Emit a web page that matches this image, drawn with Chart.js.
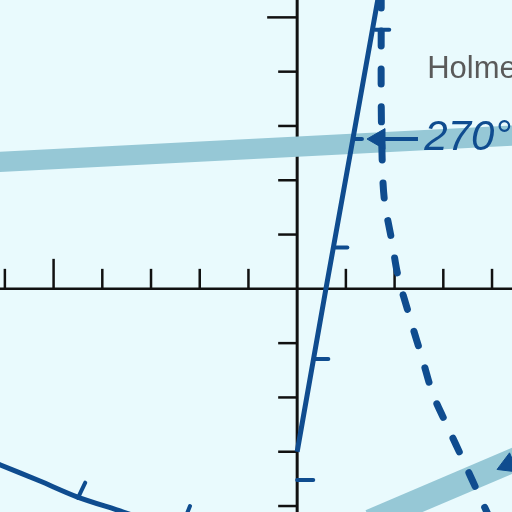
<!DOCTYPE html>
<html>
<head>
<meta charset="utf-8">
<script src="https://cdn.jsdelivr.net/npm/chart.js@4"></script>
<style>
  html, body { margin: 0; padding: 0; background: #e9fafd; }
  #wrap { width: 512px; height: 512px; }
</style>
</head>
<body>
<div id="wrap"><canvas id="phaseChart"></canvas></div>
<script>
// axis ranges and ticks
const xRange = [-6.1, 4.41];
const yRange = [-4.11, 5.32];
const xTicks = [-6, -5, -4, -3, -2, -1, 1, 2, 3, 4];
const yTicks = [-4, -3, -2, -1, 1, 2, 3, 4, 5];
const majorX = [-5];
const majorY = [5];

// light bands
const upperBand = [{ x: -6.5, y: 2.32 }, { x: 4.8, y: 2.84 }];
const lowerBand = [{ x: 1.5, y: -4.28 }, { x: 4.8, y: -3.02 }];

// solid line through the origin region
const solidLine = [
  { x: 0, y: -3.0 }, { x: 0.59, y: 0 }, { x: 1.14, y: 2.74 }, { x: 1.69, y: 5.5 }
];

// dashed curve
const dashedLine = [
  { x: 1.725, y: 5.45 }, { x: 1.725, y: 4.77 }, { x: 1.725, y: 3.48 },
  { x: 1.745, y: 2.38 }, { x: 1.79, y: 1.64 }, { x: 1.95, y: 0.85 },
  { x: 2.07, y: 0.24 }, { x: 2.34, y: -0.61 }, { x: 2.57, y: -1.29 },
  { x: 2.79, y: -1.95 }, { x: 3.10, y: -2.56 }, { x: 3.43, y: -3.20 },
  { x: 3.76, y: -3.85 }, { x: 3.92, y: -4.16 }, { x: 4.0, y: -4.3 }
];

// lower left curve
const lowerCurve = [
  { x: -6.3, y: -3.17 }, { x: -6.1, y: -3.24 }, { x: -5.28, y: -3.54 },
  { x: -4.52, y: -3.83 }, { x: -3.57, y: -4.11 }, { x: -2.81, y: -4.35 }
];

// small tick marks along the curves
const stubs = [
  [{ x: 0.0, y: -3.52 }, { x: 0.33, y: -3.52 }],
  [{ x: 0.35, y: -1.29 }, { x: 0.64, y: -1.29 }],
  [{ x: 0.79, y: 0.76 }, { x: 1.03, y: 0.76 }],
  [{ x: 1.15, y: 2.76 }, { x: 1.33, y: 2.76 }],
  [{ x: 1.6, y: 4.77 }, { x: 1.89, y: 4.77 }],
  [{ x: -4.50, y: -3.85 }, { x: -4.35, y: -3.57 }],
  [{ x: -2.28, y: -4.18 }, { x: -2.20, y: -4.0 }]
];

// arrow to the 270° point
const arrowShaft = [{ x: 1.6, y: 2.76 }, { x: 2.48, y: 2.76 }];
const arrowHeads = [
  { x: 1.68, y: 2.76, rot: 270 },
  { x: 4.33, y: -3.24, rot: 247 }
];

const labels = [
  { text: "Holme", x: 2.67, y: 3.89, font: "31px 'Liberation Sans', Arial, sans-serif", color: "#5a5a5a" },
  { text: "270°", x: 2.61, y: 2.56, font: "italic 42px 'Liberation Sans', Arial, sans-serif", color: "#0f4c8f" }
];

const BAND = "#96c8d6";
const DARK = "#0f4c8f";

const axesPlugin = {
  id: "axesPlugin",
  beforeDatasetsDraw(chart) {
    const { ctx, scales: { x, y }, chartArea } = chart;
    const x0 = x.getPixelForValue(0);
    const y0 = y.getPixelForValue(0);
    ctx.save();
    ctx.strokeStyle = "#111";
    ctx.lineWidth = 3;
    ctx.beginPath();
    ctx.moveTo(x0, chartArea.top);
    ctx.lineTo(x0, chartArea.bottom);
    ctx.stroke();
    ctx.lineWidth = 2.5;
    ctx.beginPath();
    ctx.moveTo(chartArea.left, y0);
    ctx.lineTo(chartArea.right, y0);
    ctx.stroke();
    xTicks.forEach((t) => {
      const px = x.getPixelForValue(t);
      const len = majorX.includes(t) ? 30 : 20;
      ctx.beginPath();
      ctx.moveTo(px, y0);
      ctx.lineTo(px, y0 - len);
      ctx.stroke();
    });
    yTicks.forEach((t) => {
      const py = y.getPixelForValue(t);
      const len = majorY.includes(t) ? 30 : 19;
      ctx.beginPath();
      ctx.moveTo(x0, py);
      ctx.lineTo(x0 - len, py);
      ctx.stroke();
    });
    ctx.restore();
  },
  afterDatasetsDraw(chart) {
    const { ctx, scales: { x, y } } = chart;
    ctx.save();
    ctx.textBaseline = "alphabetic";
    labels.forEach((l) => {
      ctx.font = l.font;
      ctx.fillStyle = l.color;
      ctx.fillText(l.text, x.getPixelForValue(l.x), y.getPixelForValue(l.y));
    });
    ctx.restore();
  }
};

// bands get a higher order so they sit underneath the dark curves
const datasets = [
  { data: upperBand, borderColor: BAND, borderWidth: 20, pointRadius: 0, order: 10 },
  { data: lowerBand, borderColor: BAND, borderWidth: 24, pointRadius: 0, order: 10 },
  { data: lowerCurve, borderColor: DARK, borderWidth: 5, pointRadius: 0, tension: 0.3, order: 1 },
  { data: solidLine, borderColor: DARK, borderWidth: 5, pointRadius: 0, tension: 0, order: 1 },
  {
    data: dashedLine, borderColor: DARK, borderWidth: 7, pointRadius: 0,
    tension: 0.3, borderDash: [15, 23], borderCapStyle: "round", order: 1
  },
  { data: arrowShaft, borderColor: DARK, borderWidth: 4, pointRadius: 0, order: 1 }
];

stubs.forEach((s) => {
  datasets.push({ data: s, borderColor: DARK, borderWidth: 4, pointRadius: 0, borderCapStyle: "round", order: 1 });
});

datasets.push({
  data: arrowHeads,
  showLine: false,
  pointStyle: "triangle",
  pointRadius: 12,
  pointRotation: arrowHeads.map((a) => a.rot),
  backgroundColor: DARK,
  borderColor: DARK,
  borderWidth: 1,
  order: 0
});

const ctx = document.getElementById("phaseChart").getContext("2d");
new Chart(ctx, {
  type: "line",
  data: { datasets: datasets },
  options: {
    responsive: true,
    maintainAspectRatio: false,
    animation: false,
    layout: { padding: 0, autoPadding: false },
    plugins: { legend: { display: false }, tooltip: { enabled: false } },
    scales: {
      x: { type: "linear", min: xRange[0], max: xRange[1], display: false },
      y: { type: "linear", min: yRange[0], max: yRange[1], display: false }
    }
  },
  plugins: [axesPlugin]
});
</script>
</body>
</html>
